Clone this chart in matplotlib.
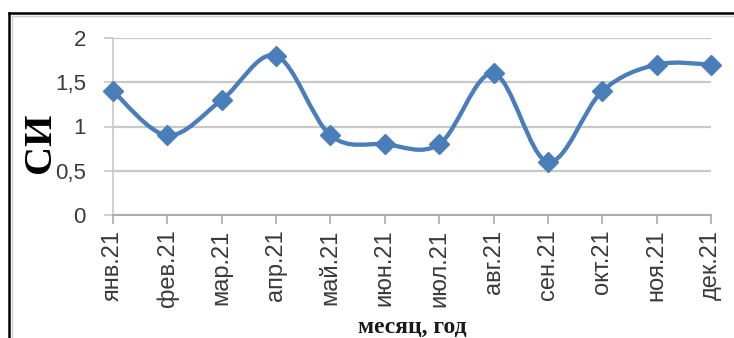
import matplotlib
matplotlib.use("Agg")
import matplotlib.pyplot as plt
from matplotlib.path import Path
from matplotlib.patches import PathPatch
from matplotlib.lines import Line2D
import numpy as np

# Monthly index values for 2021
months = ["янв.21", "фев.21", "мар.21", "апр.21", "май.21", "июн.21",
          "июл.21", "авг.21", "сен.21", "окт.21", "ноя.21", "дек.21"]
si_values = [1.4, 0.9, 1.3, 1.8, 0.9, 0.8, 0.8, 1.6, 0.6, 1.4, 1.7, 1.7]
y_ticks = [0, 0.5, 1, 1.5, 2]
y_tick_labels = ["0", "0,5", "1", "1,5", "2"]

BLUE = "#4A7EBB"
GRID = "#C8C8C8"
AXIS = "#ABABAB"
TEXT = "#3A3A3A"

W, H = 734, 338
fig = plt.figure(figsize=(W / 100, H / 100), dpi=100)
fig.patch.set_facecolor("white")

left, right, bottom, top = 113, 711, 215, 38
ax = fig.add_axes([left / W, 1 - bottom / H, (right - left) / W, (bottom - top) / H])
ax.set_facecolor("white")

x = np.arange(len(months))
ax.set_xlim(0, len(months) - 1)
ax.set_ylim(0, 2)


def smooth_path(xs, ys):
    """Cubic Bezier spline through the points (Catmull-Rom style)."""
    pts = np.column_stack([xs, ys]).astype(float)
    n = len(pts)
    verts = [pts[0]]
    codes = [Path.MOVETO]
    for i in range(n - 1):
        p0 = pts[i - 1] if i > 0 else pts[i]
        p1 = pts[i]
        p2 = pts[i + 1]
        p3 = pts[i + 2] if i + 2 < n else pts[i + 1]
        c1 = p1 + (p2 - p0) / 6.0
        c2 = p2 - (p3 - p1) / 6.0
        verts += [c1, c2, p2]
        codes += [Path.CURVE4] * 3
    return Path(verts, codes)


ax.add_patch(PathPatch(smooth_path(x, si_values), facecolor="none",
                       edgecolor=BLUE, lw=3.1, capstyle="round",
                       joinstyle="round", zorder=3))
ax.plot(x, si_values, linestyle="none", marker="D", markersize=10,
        color=BLUE, markeredgecolor=BLUE, zorder=4, clip_on=False)

# Grid and axes
ax.set_yticks(y_ticks)
ax.set_yticklabels(y_tick_labels)
ax.set_xticks(x)
ax.set_xticklabels(months, rotation=90)
ax.yaxis.grid(True, color=GRID, lw=1.6)
ax.set_axisbelow(True)
for side in ["top", "right"]:
    ax.spines[side].set_visible(False)
ax.spines["left"].set_color(GRID)
ax.spines["left"].set_linewidth(1.2)
ax.spines["bottom"].set_color(AXIS)
ax.spines["bottom"].set_linewidth(1.4)
ax.tick_params(axis="y", length=6.5, width=1.2, color=GRID, pad=13,
               labelsize=16, labelcolor=TEXT)
ax.tick_params(axis="x", length=6.5, width=1.2, color=AXIS, pad=4,
               labelsize=17, labelcolor=TEXT)
for lab in ax.get_xticklabels() + ax.get_yticklabels():
    lab.set_family(["Liberation Sans", "DejaVu Sans"])

# Axis titles
fig.text(40 / W, 1 - 143 / H, "СИ", rotation=90, ha="center", va="center",
         fontsize=29, fontweight="bold",
         family=["Liberation Serif", "DejaVu Serif"], color="black")
fig.text(412 / W, 1 - 327 / H, "месяц, год", ha="center", va="center",
         fontsize=17, fontweight="bold",
         family=["Liberation Serif", "DejaVu Serif"], color="#1A1A1A")

# Outer chart frame (top and left edges)
fig.add_artist(Line2D([9 / W, 9 / W], [0, 1 - 13 / H], transform=fig.transFigure,
                      color="black", lw=1.8))
fig.add_artist(Line2D([9 / W, 1], [1 - 13 / H, 1 - 13 / H], transform=fig.transFigure,
                      color="black", lw=1.8))
fig.add_artist(Line2D([12 / W, 12 / W], [0, 1 - 16 / H], transform=fig.transFigure,
                      color="#D0D0D0", lw=1.0))
fig.add_artist(Line2D([12 / W, 1], [1 - 16 / H, 1 - 16 / H], transform=fig.transFigure,
                      color="#D0D0D0", lw=1.0))

fig.savefig("out.png", dpi=100, facecolor="white")
